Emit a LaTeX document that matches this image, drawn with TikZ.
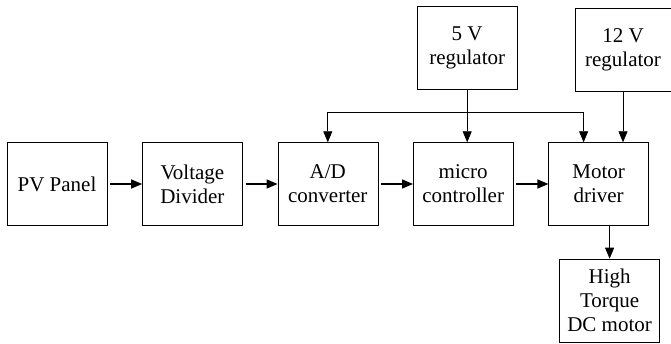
\documentclass[tikz,border=0pt]{standalone}
\usepackage{fontspec}
\newfontfamily\blkfont{Liberation Serif}
\usetikzlibrary{arrows.meta,positioning}

\begin{document}
\begin{tikzpicture}[
  x=1pt, y=-1pt,
  node distance=35pt,
  blk/.style={draw, thin, align=center, minimum width=100pt,
    minimum height=83pt, inner sep=2pt, font=\blkfont\fontsize{21}{24}\selectfont},
  flow/.style={-{Triangle[length=11pt,width=9pt]}, line width=1.4pt, shorten <=3pt},
  feed/.style={-{Triangle[length=11pt,width=9pt]}, line width=0.8pt}
]
\useasboundingbox (0,0) rectangle (671,344);
\node[blk] (pv) at (57,184) {PV Panel};
\node[blk, right=of pv] (div) {Voltage\\Divider};
\node[blk, right=of div] (adc) {A/D\\converter};
\node[blk, right=of adc] (mcu) {micro\\controller};
\node[blk, right=of mcu] (drv) {Motor\\driver};
\node[blk, above=53pt of mcu, xshift=4pt] (reg5) {5 V\\regulator};
\node[blk, minimum width=96pt] (reg12) at (623,50) {12 V\\regulator};
\node[blk, below=33pt of drv, xshift=11pt] (motor) {High\\Torque\\DC motor};
\coordinate[above=30pt of adc.north] (busL);
\coordinate[above=30pt of drv.north, xshift=-15pt] (busR);
\draw[flow] (pv) -- (div);
\draw[flow] (div) -- (adc);
\draw[flow] (adc) -- (mcu);
\draw[flow] (mcu) -- (drv);
\draw[feed] (reg5.south) -- (reg5.south |- mcu.north);
\draw[feed] (reg12.south) -- (reg12.south |- drv.north);
\draw[feed] (busR) -- (busL) -- (adc.north);
\draw[feed] (busR) -- (busR |- drv.north);
\draw[feed] (drv.south -| motor.north) -- (motor.north);
\end{tikzpicture}
\end{document}
